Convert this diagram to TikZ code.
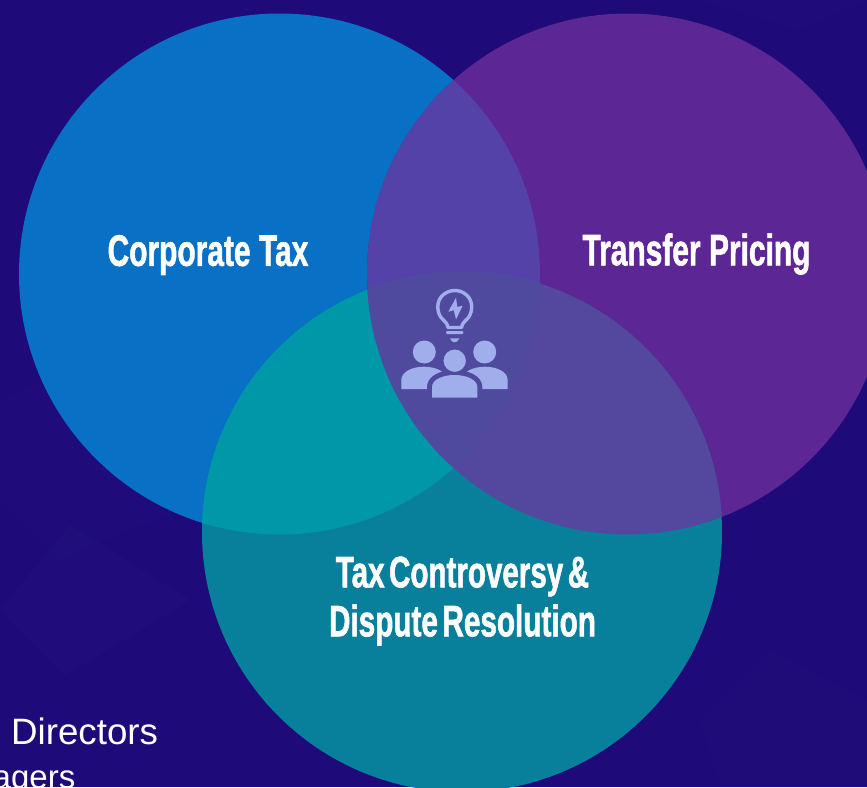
\documentclass[tikz,border=0pt]{standalone}
\usepackage{fontspec}
\setmainfont{Liberation Sans}
\newfontfamily\heavy[FakeBold=1.6,WordSpace=0.55]{Liberation Sans Bold}
\definecolor{bgc}{HTML}{1E0A78}
\definecolor{bgd}{HTML}{24127F}
\definecolor{blu}{HTML}{0870C5}
\definecolor{pur}{HTML}{5C2694}
\definecolor{tea}{HTML}{087F9B}
\definecolor{bp}{HTML}{5542A8}
\definecolor{bt}{HTML}{0098A8}
\definecolor{pt}{HTML}{54479E}
\definecolor{all}{HTML}{504A9E}
\definecolor{ico}{HTML}{A0AEEB}
\tikzset{
  lab/.style={text=white,font=\heavy\fontsize{44}{50}\selectfont,align=center,inner sep=0pt},
  plain/.style={text=white,font=\fontsize{36.7}{42}\selectfont,inner sep=0pt},
  icon/.style={fill=ico,draw=none}
}
\newcommand{\cblue}{(279.5,274) circle[radius=260.5]}
\newcommand{\cpurp}{(627.5,274) circle[radius=260.5]}
\newcommand{\cteal}{(462,532) circle[radius=260]}
\begin{document}
\begin{tikzpicture}[x=1pt,y=-1pt]
\useasboundingbox (0,0) rectangle (867,787);
\begin{scope}
\clip (0,0) rectangle (867,787);
\fill[bgc] (0,0) rectangle (867,787);
% faint background facets
\fill[bgd,opacity=.45] (0,610) -- (70,525) -- (190,600) -- (65,675) -- cycle;
\fill[bgd,opacity=.2] (0,400) -- (60,370) -- (200,500) -- (60,560) -- (0,500) -- cycle;
\fill[bgd,opacity=.25] (700,720) -- (770,650) -- (867,700) -- (867,787) -- (720,787) -- cycle;
\fill[bgd,opacity=.2] (700,0) -- (800,30) -- (867,0) -- cycle;
% circles
\fill[blu] \cblue;
\fill[pur] \cpurp;
\fill[tea] \cteal;
\begin{scope}\clip \cblue; \fill[bp] \cpurp; \end{scope}
\begin{scope}\clip \cblue; \fill[bt] \cteal; \end{scope}
\begin{scope}\clip \cpurp; \fill[pt] \cteal; \end{scope}
\begin{scope}\clip \cblue; \clip \cpurp; \fill[all] \cteal; \end{scope}
% labels
\node[lab] (corp) at (208,255) {\scalebox{.68}[1]{Corporate\hspace{.13em} Tax}};
\node[lab] (tp) at (696.5,254) {\scalebox{.68}[1]{Transfer\hspace{.13em} Pricing}};
\node[lab,font=\heavy\fontsize{44}{49}\selectfont] (tc) at (462.5,601) {\scalebox{.672}[1]{Tax Controversy \&}\\\scalebox{.675}[1]{Dispute Resolution}};
\node[plain,anchor=base west] (dir) at (11,744.5) {Directors};
\node[plain,anchor=base east,font=\fontsize{33}{38}\selectfont] (mgr) at (75.5,788) {Managers};
% icon: bulb
\draw[ico,line width=3.4pt,line join=round] (448,327.5) .. controls (447.5,323) and (444,321) .. (441,317.5) .. controls (436,310) and (437,300) .. (443,295) .. controls (450,289) and (460,289) .. (466.5,295) .. controls (472.5,300) and (473.5,310) .. (468.5,317.5) .. controls (465.5,321) and (462,323) .. (461.5,327.5) -- cycle;
\fill[icon] (456,297.7) -- (448.3,311.7) -- (453.7,310.3) -- (456,319.3) -- (462.7,305.7) -- (457.3,307) -- cycle;
\fill[icon,rounded corners=1pt] (446,331) rectangle (463.3,334);
\fill[icon] (450,338.3) -- (459.3,338.3) .. controls (458.5,341) and (456.5,342.3) .. (454.7,342.3) .. controls (452.8,342.3) and (450.8,341) .. (450,338.3) -- cycle;
% icon: people
\fill[icon] (424.3,352) circle[radius=11.5];
\fill[icon] (484.7,352) circle[radius=11.5];
\fill[icon] (401.3,389) -- (401.3,380) .. controls (401.3,372) and (412,366.7) .. (424,366.7) .. controls (436,366.7) and (447,372) .. (447,380) -- (447,389) -- cycle;
\fill[icon] (507.7,389) -- (507.7,380) .. controls (507.7,372) and (497,366.7) .. (485,366.7) .. controls (473,366.7) and (462,372) .. (462,380) -- (462,389) -- cycle;
\draw[all,line width=10pt,fill=ico,line join=round] (432,397.7) -- (432,387) .. controls (432,380) and (442,375) .. (454.7,375) .. controls (467,375) and (477.3,380) .. (477.3,387) -- (477.3,397.7) -- cycle;
\fill[icon] (432,397.7) -- (432,387) .. controls (432,380) and (442,375) .. (454.7,375) .. controls (467,375) and (477.3,380) .. (477.3,387) -- (477.3,397.7) -- cycle;
\draw[all,line width=2.4pt,fill=ico] (454.7,360.7) circle[radius=12.5];
\end{scope}
\end{tikzpicture}
\end{document}
